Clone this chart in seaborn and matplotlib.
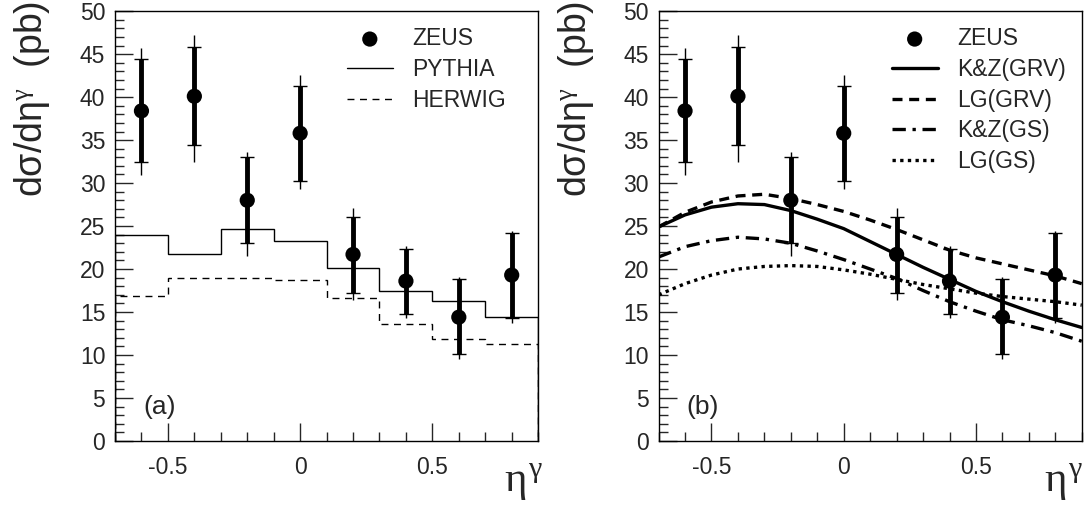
import numpy as np
import pandas as pd
import seaborn as sns
import matplotlib.pyplot as plt
from matplotlib.ticker import MultipleLocator

sns.set_style('ticks')
plt.rcParams['font.family'] = ['Liberation Sans', 'DejaVu Sans']
plt.rcParams['mathtext.fontset'] = 'custom'
plt.rcParams['mathtext.rm'] = 'Liberation Serif'
plt.rcParams['mathtext.it'] = 'Liberation Serif'

# ZEUS data points
eta = [-0.6, -0.4, -0.2, 0.0, 0.2, 0.4, 0.6, 0.8]
xsec = [38.4, 40.1, 28.0, 35.8, 21.7, 18.6, 14.4, 19.3]
stat_lo = [32.5, 34.4, 23.0, 30.2, 17.2, 14.8, 10.1, 14.3]
stat_hi = [44.4, 45.8, 33.0, 41.3, 26.0, 22.3, 18.8, 24.2]
tot_lo = [30.9, 32.5, 21.5, 29.3, 16.4, 14.3, 9.5, 13.7]
tot_hi = [45.7, 47.2, 33.6, 42.6, 27.1, 22.7, 19.1, 24.4]

# MC predictions (histograms)
bin_edges = [-0.7, -0.5, -0.3, -0.1, 0.1, 0.3, 0.5, 0.7, 0.9]
pythia = [24.0, 21.8, 24.6, 23.3, 20.1, 17.4, 16.3, 14.4]
herwig = [16.9, 18.9, 18.9, 18.7, 16.6, 13.6, 11.9, 11.3]

# NLO calculations
eta_curve = [-0.7, -0.6, -0.5, -0.4, -0.3, -0.2, -0.1, 0.0, 0.1,
             0.2, 0.3, 0.4, 0.5, 0.6, 0.7, 0.8, 0.9]
kz_grv = [24.9, 26.3, 27.2, 27.6, 27.5, 26.8, 25.8, 24.7, 23.2,
          21.7, 20.2, 18.8, 17.4, 16.2, 15.1, 14.1, 13.2]
lg_grv = [24.9, 26.6, 27.8, 28.5, 28.7, 28.2, 27.5, 26.7, 25.7,
          24.6, 23.4, 22.2, 21.3, 20.6, 19.9, 19.2, 18.3]
kz_gs = [21.4, 22.6, 23.3, 23.7, 23.5, 23.0, 22.1, 21.1, 20.0,
         18.9, 17.5, 16.2, 15.1, 14.1, 13.4, 12.6, 11.6]
lg_gs = [17.0, 18.3, 19.3, 20.0, 20.3, 20.4, 20.3, 19.9, 19.4,
         18.8, 18.2, 17.7, 17.2, 16.8, 16.5, 16.2, 15.8]

x = np.array(eta)
y = np.array(xsec)

fig = plt.figure(figsize=(10.85, 5.08), dpi=100)
ax1 = fig.add_axes([0.106, 0.132, 0.390, 0.846])
ax2 = fig.add_axes([0.607, 0.132, 0.390, 0.846])


def draw_data(ax):
    ax.errorbar(x, y, yerr=[y - np.array(tot_lo), np.array(tot_hi) - y],
                fmt='none', ecolor='black', elinewidth=1.0, capsize=0)
    ax.errorbar(x, y, yerr=[y - np.array(stat_lo), np.array(stat_hi) - y],
                fmt='none', ecolor='black', elinewidth=3.5, capsize=4.7, capthick=1.0)
    sns.scatterplot(x=eta, y=xsec, ax=ax, color='black', s=120,
                    edgecolor='none', label='ZEUS', zorder=5)


def style_axes(ax, tag, xlab_x):
    ax.set_xlim(-0.7, 0.9)
    ax.set_ylim(0, 50)
    ax.xaxis.set_major_locator(MultipleLocator(0.5))
    ax.xaxis.set_minor_locator(MultipleLocator(0.1))
    ax.yaxis.set_major_locator(MultipleLocator(5))
    ax.yaxis.set_minor_locator(MultipleLocator(1))
    ax.set_xticks([-0.5, 0, 0.5])
    ax.set_xticklabels(['-0.5', '0', '0.5'])
    ax.tick_params(axis='x', which='major', pad=11)
    ax.tick_params(axis='y', which='major', pad=7)
    ax.tick_params(which='major', direction='in', length=13, width=1.0,
                   labelsize=16.5, top=False, right=False)
    ax.tick_params(which='minor', direction='in', length=6.5, width=1.0,
                   top=False, right=False)
    for s in ax.spines.values():
        s.set_visible(True)
        s.set_color('black')
        s.set_linewidth(1.0)
    ax.set_ylabel('dσ/dη$^{\\gamma}$  (pb)', fontsize=27, loc='top')
    ax.yaxis.set_label_coords(-0.149, 1.025)
    ax.set_xlabel('$\\eta^{\\gamma}$', fontsize=31, ha='right')
    ax.xaxis.set_label_coords(xlab_x, -0.05)
    ax.text(0.066, 0.08, tag, transform=ax.transAxes, fontsize=19,
            va='center', ha='left')


leg_kw = dict(loc='upper left', frameon=False, fontsize=16.5, handlelength=2.0,
              handletextpad=0.85, labelspacing=0.34, borderpad=0, borderaxespad=0)

# panel (a)
ax1.stairs(pythia, bin_edges, color='black', linewidth=1.0, label='PYTHIA')
ax1.stairs(herwig, bin_edges, color='black', linewidth=1.0,
           linestyle=(0, (5, 4)), label='HERWIG')
draw_data(ax1)
style_axes(ax1, '(a)', 1.012)
h, l = ax1.get_legend_handles_labels()
names_a = ['ZEUS', 'PYTHIA', 'HERWIG']
ax1.legend([h[l.index(n)] for n in names_a], names_a,
           bbox_to_anchor=(0.548, 0.963), **leg_kw)

# panel (b)
curves = pd.DataFrame({'eta': eta_curve * 4,
                       'xsec': kz_grv + lg_grv + kz_gs + lg_gs,
                       'calc': ['K&Z(GRV)'] * 17 + ['LG(GRV)'] * 17 +
                               ['K&Z(GS)'] * 17 + ['LG(GS)'] * 17})
styles = {'K&Z(GRV)': '-', 'LG(GRV)': (0, (3, 2)),
          'K&Z(GS)': (0, (4, 2, 1, 2)), 'LG(GS)': (0, (1, 1.3))}
for name, grp in curves.groupby('calc', sort=False):
    sns.lineplot(data=grp, x='eta', y='xsec', ax=ax2, color='black',
                 linewidth=2.4, linestyle=styles[name], label=name)
draw_data(ax2)
style_axes(ax2, '(b)', 1.002)
h, l = ax2.get_legend_handles_labels()
names_b = ['ZEUS', 'K&Z(GRV)', 'LG(GRV)', 'K&Z(GS)', 'LG(GS)']
ax2.legend([h[l.index(n)] for n in names_b], names_b,
           bbox_to_anchor=(0.551, 0.963), **leg_kw)

fig.savefig('out.png', dpi=100)
